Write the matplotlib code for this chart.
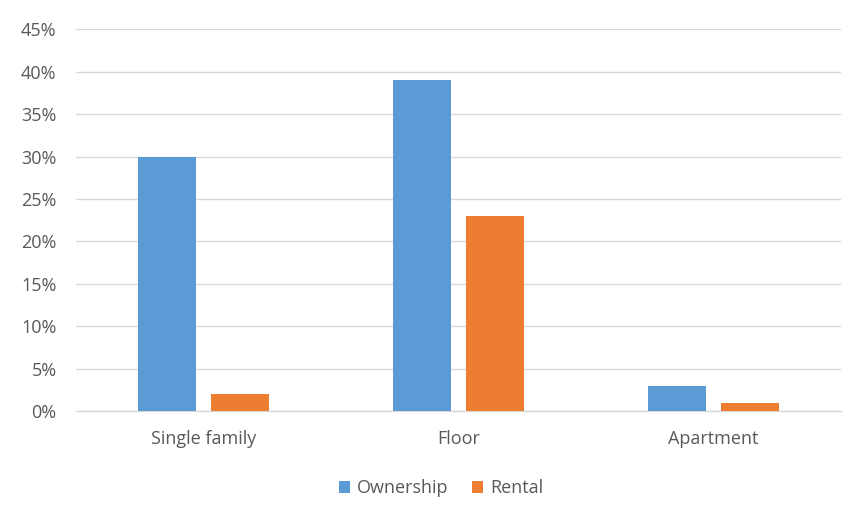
import matplotlib
matplotlib.use("Agg")
import matplotlib.pyplot as plt
import numpy as np
from matplotlib.ticker import FuncFormatter

categories = ["Single family", "Floor", "Apartment"]
ownership = [0.30, 0.39, 0.03]
rental = [0.02, 0.23, 0.01]
series_names = ["Ownership", "Rental"]

plt.rcParams["font.family"] = ["Open Sans", "DejaVu Sans"]
text_color = "#595959"

fig = plt.figure(figsize=(8.57, 5.21), dpi=100)
ax = fig.add_axes([76 / 857, 110 / 521, 765 / 857, 381.7 / 521])

x = np.arange(len(categories))
width = 0.2275
offset = 0.142
ax.bar(x - offset, ownership, width, color="#5B9BD5", label=series_names[0], zorder=3)
ax.bar(x + offset, rental, width, color="#ED7D31", label=series_names[1], zorder=3)

ax.set_xlim(-0.5, len(categories) - 0.5)
ax.set_ylim(0, 0.45)
ax.set_yticks(np.arange(0, 0.451, 0.05))
ax.yaxis.set_major_formatter(FuncFormatter(lambda v, _: f"{round(v * 100)}%"))
ax.set_xticks(x)
ax.set_xticklabels(categories)

ax.grid(axis="y", color="#D9D9D9", linewidth=1, zorder=0)
ax.set_axisbelow(True)
for s in ["top", "right", "left"]:
    ax.spines[s].set_visible(False)
ax.spines["bottom"].set_color("#D9D9D9")
ax.spines["bottom"].set_linewidth(1)

ax.tick_params(axis="both", length=0, labelsize=13, colors=text_color)
ax.tick_params(axis="y", pad=14)
ax.tick_params(axis="x", pad=14)

fig.legend(loc="center", bbox_to_anchor=(0.515, 0.063), ncol=2, frameon=False,
           fontsize=13, labelcolor=text_color, handlelength=0.6, handleheight=0.6,
           handletextpad=0.4, columnspacing=1.3)

fig.savefig("out.png", dpi=100)
